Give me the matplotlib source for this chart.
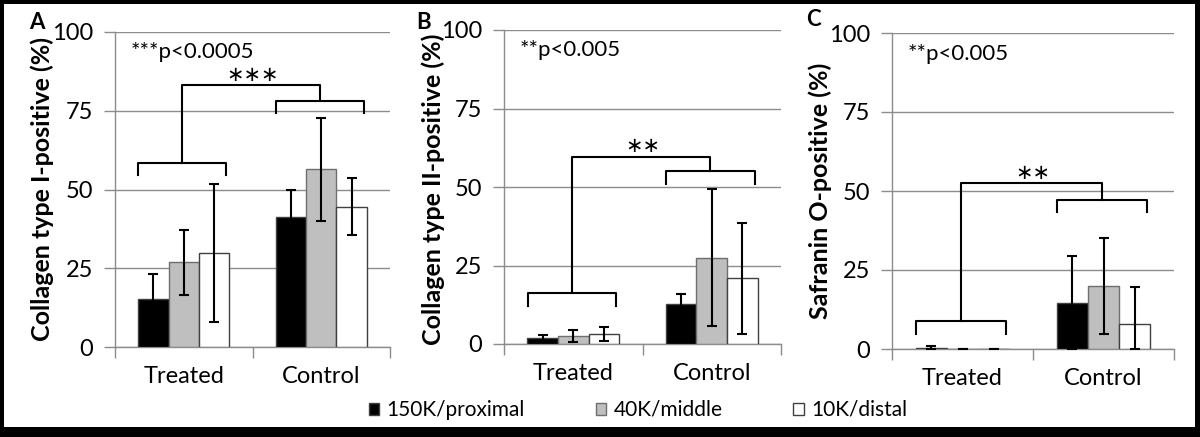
import numpy as np
import matplotlib
matplotlib.use('Agg')
import matplotlib.pyplot as plt
from matplotlib.patches import Rectangle, Patch

plt.rcParams['font.family'] = ['Lato', 'DejaVu Sans']

groups = ['Treated', 'Control']
series = ['150K/proximal', '40K/middle', '10K/distal']
fills = ['#000000', '#bfbfbf', '#ffffff']
edges = ['#404040', '#6e6e6e', '#404040']

# panel A: collagen type I
colI_mean = [[15.2, 41.4], [26.9, 56.4], [29.9, 44.5]]
colI_err = [[8.0, 8.6], [10.3, 16.4], [22.0, 9.0]]
# panel B: collagen type II
colII_mean = [[1.8, 12.7], [2.4, 27.5], [3.2, 20.9]]
colII_err = [[1.1, 3.2], [1.9, 21.8], [2.3, 17.7]]
# panel C: safranin O
saf_mean = [[0.2, 14.7], [0.1, 19.9], [0.1, 8.0]]
saf_err = [[0.8, 14.7], [0.0, 15.3], [0.0, 11.5]]

panels = [
    dict(letter='A', ylabel='Collagen type I-positive (%)', mean=colI_mean, err=colI_err,
         note='***p<0.0005', stars='\u2217\u2217\u2217', levels=(58.5, 78.2, 83.2),
         rect=[115, 390, 32, 347], letter_xy=(29, 29), ylabel_x=42, ylabel_y=189),
    dict(letter='B', ylabel='Collagen type II-positive (%)', mean=colII_mean, err=colII_err,
         note='**p<0.005', stars='\u2217\u2217', levels=(16.1, 55.1, 59.6),
         rect=[504, 781, 30, 344], letter_xy=(416, 29), ylabel_x=433, ylabel_y=189),
    dict(letter='C', ylabel='Safranin O-positive (%)', mean=saf_mean, err=saf_err,
         note='**p<0.005', stars='\u2217\u2217', levels=(8.9, 47.2, 52.5),
         rect=[892, 1174, 33, 349], letter_xy=(806, 26), ylabel_x=820, ylabel_y=191),
]

W, H = 1200, 437
fig = plt.figure(figsize=(12, 4.37), dpi=100, facecolor='black')
fig.patches.append(Rectangle((4 / W, 10 / H), 1191 / W, 423 / H, transform=fig.transFigure,
                             facecolor='white', edgecolor='none', zorder=-10))

grid_c = '#8c8c8c'
width = 0.221
x = np.arange(len(groups)) + 0.5

for p in panels:
    x0, x1, yt, yb = p['rect']
    ax = fig.add_axes([x0 / W, 1 - yb / H, (x1 - x0) / W, (yb - yt) / H])
    ax.set_facecolor('none')
    for i in range(len(series)):
        m = np.array(p['mean'][i])
        e = np.array(p['err'][i])
        lo = np.minimum(e, m)
        ax.bar(x + (i - 1) * width, m, width, color=fills[i], edgecolor=edges[i],
               linewidth=1.0, zorder=3)
        ax.errorbar(x + (i - 1) * width, m, yerr=[lo, e], fmt='none', ecolor='black',
                    elinewidth=1.5, capsize=3.5, capthick=1.5, zorder=4)
    ax.set_xlim(0, 2)
    ax.set_ylim(0, 100)
    ax.set_yticks([0, 25, 50, 75, 100])
    ax.yaxis.grid(True, color=grid_c, linewidth=1.0, zorder=0)
    ax.set_axisbelow(True)
    ax.set_xticks([0, 1, 2])
    ax.set_xticklabels([])
    ax.set_xticks(x, minor=True)
    ax.set_xticklabels(groups, minor=True, fontsize=17)
    ax.tick_params(axis='x', which='minor', length=0, pad=14)
    ax.tick_params(axis='x', which='major', length=8, color=grid_c, width=1.0)
    ax.tick_params(axis='y', length=8, color=grid_c, width=1.0, labelsize=17, pad=8)
    for s in ['top', 'right']:
        ax.spines[s].set_visible(False)
    for s in ['left', 'bottom']:
        ax.spines[s].set_color(grid_c)
        ax.spines[s].set_linewidth(1.0)

    # significance brackets
    lt, lc, top = p['levels']
    leg = 4
    for cx, lev in zip(x, [lt, lc]):
        ax.plot([cx - 0.33, cx - 0.33, cx + 0.31, cx + 0.31],
                [lev - leg, lev, lev, lev - leg], color='black', lw=1.5,
                clip_on=False, zorder=5)
    ax.plot([x[0] - 0.01, x[0] - 0.01, x[1] - 0.01, x[1] - 0.01],
            [lt, top, top, lc], color='black', lw=1.5, clip_on=False, zorder=5)
    ax.text(1.0, top + 3.3, p['stars'], ha='center', va='center', fontsize=15,
            family='DejaVu Sans')
    ax.text(0.11, 93.5, p['note'], ha='left', va='center', fontsize=16)

    fig.text(p['ylabel_x'] / W, 1 - p['ylabel_y'] / H, p['ylabel'], rotation=90,
             ha='center', va='center', fontsize=18, fontweight='bold')
    fig.text(p['letter_xy'][0] / W, 1 - p['letter_xy'][1] / H, p['letter'],
             ha='left', va='baseline', fontsize=16, fontweight='bold')

handles = [Patch(facecolor=fills[i], edgecolor=edges[i], linewidth=1.0) for i in range(3)]
fig.legend(handles, series, loc='center', bbox_to_anchor=(638 / W, 1 - 410 / H),
           ncol=3, frameon=False, fontsize=15, handlelength=0.5, handleheight=0.5,
           handletextpad=0.35, columnspacing=3.4)

fig.savefig('out.png', dpi=100, facecolor=fig.get_facecolor())
